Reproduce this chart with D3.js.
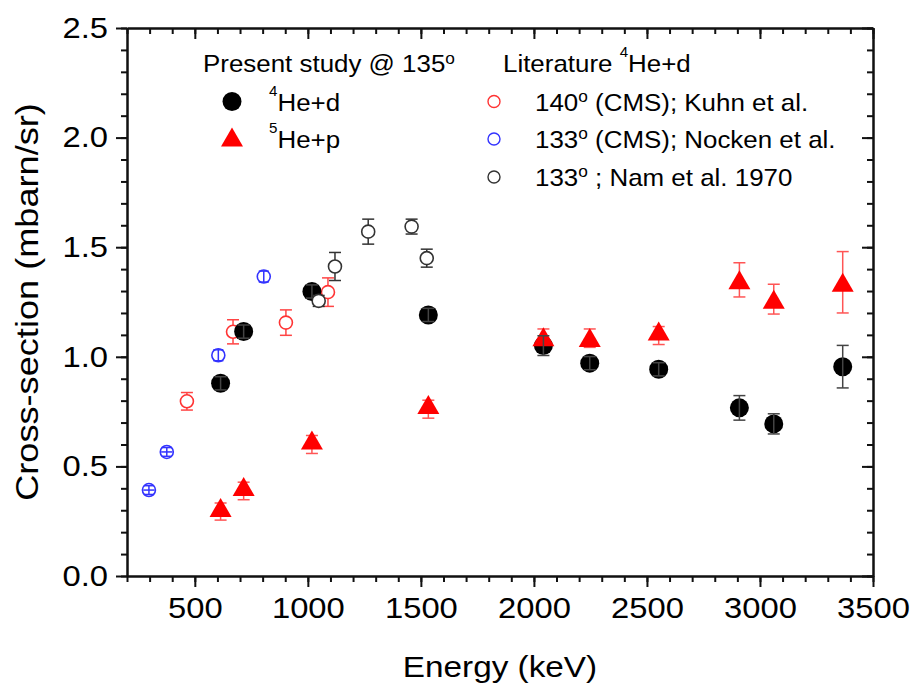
<!DOCTYPE html>
<html>
<head>
<meta charset="utf-8">
<script src="https://cdn.jsdelivr.net/npm/d3@7"></script>
<style>
  body { margin: 0; background: #fff; }
  text { font-family: "Liberation Sans", Arial, sans-serif; fill: #000; }
</style>
</head>
<body>
<script>
// data (energy in keV, cross-section in mbarn/sr)

// present study @ 135 deg
var energies = [614, 716, 1018, 1533, 2042, 2247, 2552, 2909, 3061, 3366];
var heD = [0.879, 1.115, 1.298, 1.191, 1.051, 0.971, 0.943, 0.767, 0.694, 0.955];
var heDErr = [0.03, 0.03, 0.03, 0.03, 0.045, 0.03, 0.03, 0.056, 0.046, 0.097];
var heP = [0.313, 0.408, 0.621, 0.782, 1.092, 1.088, 1.118, 1.351, 1.263, 1.340];
var hePErrLo = [0.058, 0.06, 0.062, 0.062, 0.035, 0.045, 0.062, 0.078, 0.068, 0.14];
var hePErrHi = [0.02, 0.02, 0.02, 0.02, 0.035, 0.039, 0.02, 0.078, 0.068, 0.14];

// literature 4He+d
var kuhnE = [465, 669, 903, 1089];
var kuhnY = [0.797, 1.114, 1.156, 1.295];
var kuhnErr = [0.04, 0.055, 0.058, 0.065];

var nockenE = [297, 376, 604, 805];
var nockenY = [0.392, 0.566, 1.007, 1.366];
var nockenErr = [0.02, 0.02, 0.025, 0.025];
var nockenEErr = [25, 25, 0, 0];

var namE = [1048, 1120, 1267, 1459, 1526];
var namY = [1.255, 1.412, 1.571, 1.594, 1.450];
var namErr = [0.025, 0.064, 0.057, 0.034, 0.041];

var xTicks = [500, 1000, 1500, 2000, 2500, 3000, 3500];
var yTicks = [0, 0.5, 1.0, 1.5, 2.0, 2.5];

var margin = { top: 28, right: 39, bottom: 108, left: 127 };
var W = 912, H = 684;
var width = W - margin.left - margin.right;
var height = H - margin.top - margin.bottom;

var tickSx = 1.13;   // figure text is a bit wider than Liberation Sans

var svg = d3.select("body").append("svg")
  .attr("width", W)
  .attr("height", H);

var g = svg.append("g")
  .attr("transform", "translate(" + margin.left + "," + margin.top + ")");

var x = d3.scaleLinear().domain([200, 3500]).range([0, width]);
var y = d3.scaleLinear().domain([0, 2.5]).range([height, 0]);

var minorX = d3.range(200, 3501, 100);
var minorY = d3.range(0, 2.501, 0.1);

function styleAxis(sel) {
  sel.select(".domain").attr("stroke", "#111").attr("stroke-width", 2);
  sel.selectAll("line").attr("stroke", "#111").attr("stroke-width", 2);
}

// minor ticks, all four sides
g.append("g").attr("transform", "translate(0," + height + ")")
  .call(d3.axisBottom(x).tickValues(minorX).tickSize(6).tickSizeOuter(0).tickFormat(""))
  .call(styleAxis);
g.append("g")
  .call(d3.axisTop(x).tickValues(minorX).tickSize(-6).tickSizeOuter(0).tickFormat(""))
  .call(styleAxis);
g.append("g")
  .call(d3.axisLeft(y).tickValues(minorY).tickSize(6).tickSizeOuter(0).tickFormat(""))
  .call(styleAxis);
g.append("g").attr("transform", "translate(" + width + ",0)")
  .call(d3.axisRight(y).tickValues(minorY).tickSize(-6).tickSizeOuter(0).tickFormat(""))
  .call(styleAxis);

// major ticks
var xAxis = g.append("g").attr("transform", "translate(0," + height + ")")
  .call(d3.axisBottom(x).tickValues(xTicks).tickSize(11).tickPadding(10).tickSizeOuter(0).tickFormat(d3.format("d")))
  .call(styleAxis);
xAxis.selectAll("text")
  .style("font-size", "29px")
  .attr("transform", "scale(" + tickSx + ",1)");

var yAxis = g.append("g")
  .call(d3.axisLeft(y).tickValues(yTicks).tickSize(11).tickSizeOuter(0).tickFormat(d3.format(".1f")))
  .call(styleAxis);
yAxis.selectAll("text")
  .style("font-size", "29px")
  .attr("x", -19 / tickSx)
  .attr("transform", "scale(" + tickSx + ",1)");

g.append("g")
  .call(d3.axisTop(x).tickValues(xTicks).tickSize(-11).tickSizeOuter(0).tickFormat(""))
  .call(styleAxis);
g.append("g").attr("transform", "translate(" + width + ",0)")
  .call(d3.axisRight(y).tickValues(yTicks).tickSize(-11).tickSizeOuter(0).tickFormat(""))
  .call(styleAxis);

// axis titles
svg.append("text")
  .attr("transform", "translate(" + (margin.left + width / 2) + ",677) scale(1.11,1)")
  .attr("text-anchor", "middle")
  .style("font-size", "30px")
  .text("Energy (keV)");

svg.append("text")
  .attr("transform", "translate(38," + (margin.top + height / 2) + ") rotate(-90) scale(1.13,1)")
  .attr("text-anchor", "middle")
  .style("font-size", "32px")
  .text("Cross-section (mbarn/sr)");

// error bar helper (lo / hi may differ)
function errorBars(E, V, lo, hi, color, cap, eErr) {
  var eb = g.append("g").attr("stroke", color).attr("stroke-width", 1.5).attr("fill", "none");
  E.forEach(function(e, i) {
    var cx = x(e), y0 = y(V[i] - lo[i]), y1 = y(V[i] + hi[i]);
    eb.append("line").attr("x1", cx).attr("x2", cx).attr("y1", y0).attr("y2", y1);
    eb.append("line").attr("x1", cx - cap).attr("x2", cx + cap).attr("y1", y0).attr("y2", y0);
    eb.append("line").attr("x1", cx - cap).attr("x2", cx + cap).attr("y1", y1).attr("y2", y1);
    if (eErr && eErr[i] > 0) {
      eb.append("line").attr("x1", x(e - eErr[i])).attr("x2", x(e + eErr[i]))
        .attr("y1", y(V[i])).attr("y2", y(V[i]));
    }
  });
}

function triPath(w, h) {
  return "M0," + (-h / 2) + "L" + (w / 2) + "," + (h / 2) + "L" + (-w / 2) + "," + (h / 2) + "Z";
}

// Kuhn et al.
errorBars(kuhnE, kuhnY, kuhnErr, kuhnErr, "#ff4444", 6);
g.append("g").selectAll("circle").data(kuhnE).enter().append("circle")
  .attr("cx", function(d) { return x(d); })
  .attr("cy", function(d, i) { return y(kuhnY[i]); })
  .attr("r", 6.5)
  .attr("fill", "#fff").attr("stroke", "#ff3333").attr("stroke-width", 1.6);

// Nocken et al.
g.append("g").selectAll("circle").data(nockenE).enter().append("circle")
  .attr("cx", function(d) { return x(d); })
  .attr("cy", function(d, i) { return y(nockenY[i]); })
  .attr("r", 6.5)
  .attr("fill", "#fff").attr("stroke", "#3333ff").attr("stroke-width", 1.6);
errorBars(nockenE, nockenY, nockenErr, nockenErr, "#3333ff", 5, nockenEErr);

// present study 4He+d
g.append("g").selectAll("circle").data(energies).enter().append("circle")
  .attr("cx", function(d) { return x(d); })
  .attr("cy", function(d, i) { return y(heD[i]); })
  .attr("r", 9.5)
  .attr("fill", "#000");

// present study 5He+p
errorBars(energies, heP, hePErrLo, hePErrHi, "#ff5555", 6);
g.append("g").selectAll("path").data(energies).enter().append("path")
  .attr("transform", function(d, i) { return "translate(" + x(d) + "," + y(heP[i]) + ")"; })
  .attr("d", triPath(22, 19))
  .attr("fill", "#ff0000");

errorBars(energies, heD, heDErr, heDErr, "#444", 6);

// Nam et al.
errorBars(namE, namY, namErr, namErr, "#333", 6);
g.append("g").selectAll("circle").data(namE).enter().append("circle")
  .attr("cx", function(d) { return x(d); })
  .attr("cy", function(d, i) { return y(namY[i]); })
  .attr("r", 6.5)
  .attr("fill", "#fff").attr("stroke", "#333").attr("stroke-width", 1.6);

// legend
var legSx = 1.08;
function legText(px, py, parts) {
  var t = svg.append("text")
    .attr("transform", "translate(" + px + "," + py + ") scale(" + legSx + ",1)")
    .style("font-size", "24px");
  var back = 0;
  parts.forEach(function(p) {
    if (p.sup) {
      t.append("tspan").attr("dy", -p.up + back).style("font-size", p.size + "px").text(p.sup);
      back = p.up;
    } else {
      t.append("tspan").attr("dy", back).text(p.t);
      back = 0;
    }
  });
  return t;
}

legText(203, 72, [{ t: "Present study @ 135" }, { sup: "o", size: 16, up: 8 }]);
legText(503, 72, [{ t: "Literature " }, { sup: "4", size: 14, up: 15 }, { t: "He+d" }]);

svg.append("circle").attr("cx", 232).attr("cy", 101.5).attr("r", 9.5).attr("fill", "#000");
legText(269, 111, [{ sup: "4", size: 14, up: 15 }, { t: "He+d" }]);
svg.append("path").attr("transform", "translate(232,137)").attr("d", triPath(22, 19)).attr("fill", "#ff0000");
legText(269, 148, [{ sup: "5", size: 14, up: 15 }, { t: "He+p" }]);

svg.append("circle").attr("cx", 494).attr("cy", 101.5).attr("r", 6)
  .attr("fill", "#fff").attr("stroke", "#ff3333").attr("stroke-width", 1.4);
legText(535, 111, [{ t: "140" }, { sup: "o", size: 16, up: 9 }, { t: " (CMS); Kuhn et al." }]);
svg.append("circle").attr("cx", 494).attr("cy", 139).attr("r", 6)
  .attr("fill", "#fff").attr("stroke", "#3333ff").attr("stroke-width", 1.4);
legText(535, 148, [{ t: "133" }, { sup: "o", size: 16, up: 9 }, { t: " (CMS); Nocken et al." }]);
svg.append("circle").attr("cx", 494).attr("cy", 177).attr("r", 6)
  .attr("fill", "#fff").attr("stroke", "#333").attr("stroke-width", 1.4);
legText(535, 186, [{ t: "133" }, { sup: "o", size: 16, up: 9 }, { t: " ; Nam et al. 1970" }]);
</script>
</body>
</html>
